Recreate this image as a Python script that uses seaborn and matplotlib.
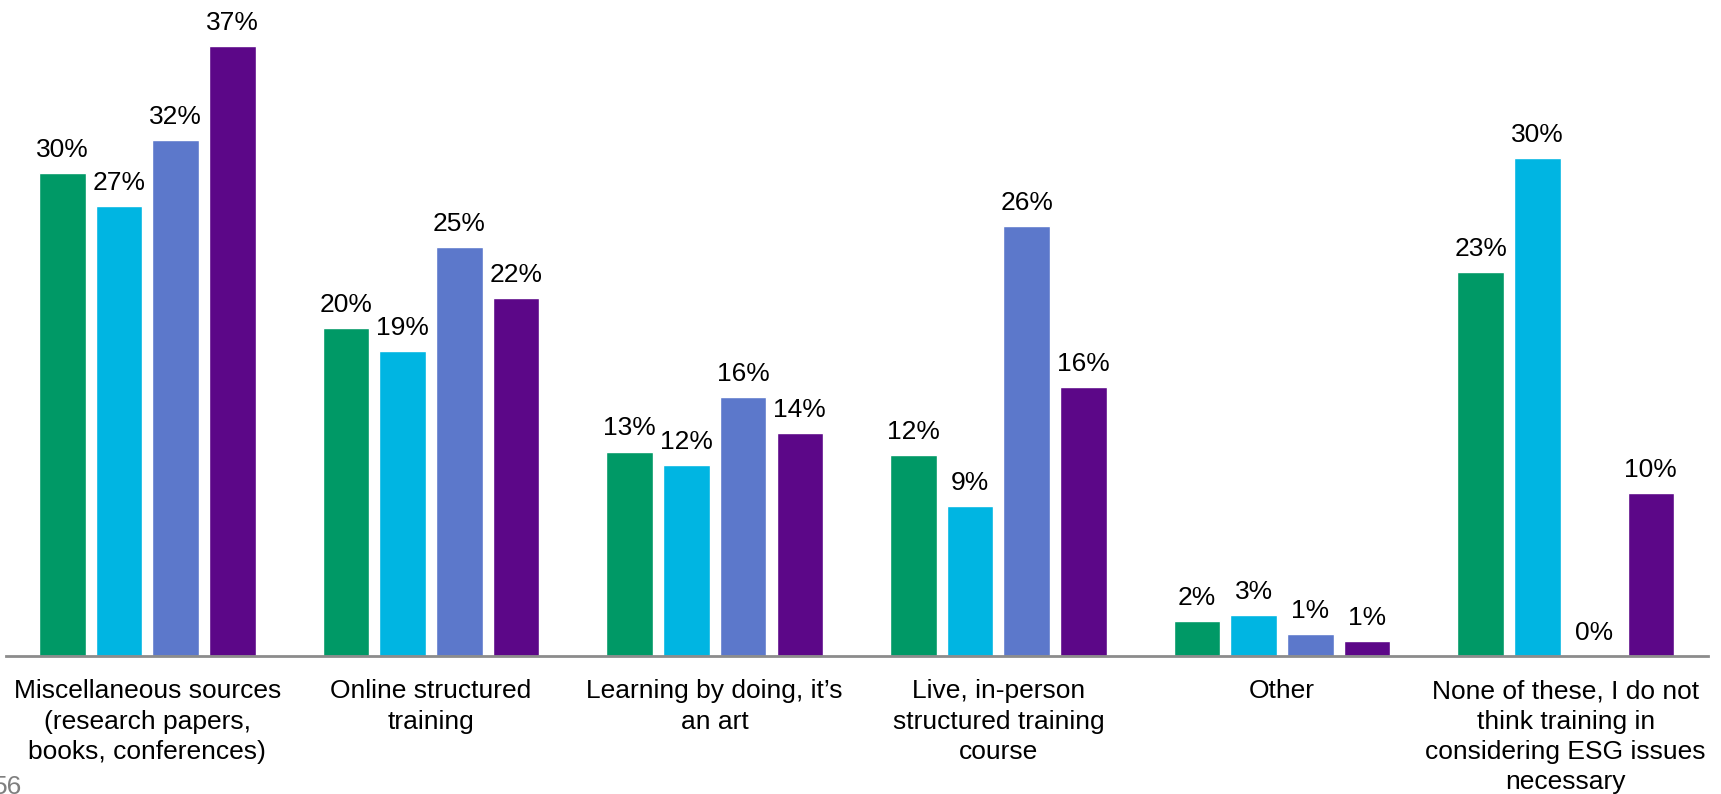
import matplotlib
matplotlib.use("Agg")
import matplotlib.pyplot as plt
import seaborn as sns
import pandas as pd

categories = [
    "Miscellaneous sources\n(research papers,\nbooks, conferences)",
    "Online structured\ntraining",
    "Learning by doing, it\u2019s\nan art",
    "Live, in-person\nstructured training\ncourse",
    "Other",
    "None of these, I do not\nthink training in\nconsidering ESG issues\nnecessary",
]
series = ["S1", "S2", "S3", "S4"]
colors = ["#009966", "#00B5E2", "#5C78CB", "#5C0788"]

# bar heights, labels as printed
s1 = [29.3, 19.9, 12.4, 12.2, 2.1, 23.3]
s2 = [27.3, 18.5, 11.6, 9.1, 2.5, 30.2]
s3 = [31.3, 24.8, 15.7, 26.1, 1.3, 0.0]
s4 = [37.0, 21.7, 13.5, 16.3, 0.9, 9.9]
s1_labels = ["30%", "20%", "13%", "12%", "2%", "23%"]
s2_labels = ["27%", "19%", "12%", "9%", "3%", "30%"]
s3_labels = ["32%", "25%", "16%", "26%", "1%", "0%"]
s4_labels = ["37%", "22%", "14%", "16%", "1%", "10%"]

values = [s1, s2, s3, s4]
labels = [s1_labels, s2_labels, s3_labels, s4_labels]

df = pd.DataFrame({
    "category": categories * 4,
    "series": [s for s in series for _ in categories],
    "value": [v for vals in values for v in vals],
})

sns.set_theme(style="white")
plt.rcParams["font.family"] = ["Liberation Sans", "DejaVu Sans"]

fig = plt.figure(figsize=(17.21, 7.94), dpi=100)
ax = fig.add_axes([0.0032, 0.174, 0.989, 0.826])

sns.barplot(data=df, x="category", y="value", hue="series", order=categories,
            hue_order=series, palette=colors, width=0.8, gap=0.18,
            saturation=1, legend=False, ax=ax)

for cont, lab in zip(ax.containers, labels):
    ax.bar_label(cont, labels=lab, padding=8, fontsize=19, color="black")

ax.set_xlim(-0.5, 5.5)
ax.set_ylim(0, 39.8)
ax.set_xlabel("")
ax.set_ylabel("")
ax.set_yticks([])
ax.tick_params(axis="x", length=0, pad=17, labelsize=19, labelcolor="black")
for lab in ax.get_xticklabels():
    lab.set_linespacing(1.32)
for side in ["top", "right", "left"]:
    ax.spines[side].set_visible(False)
ax.spines["bottom"].set_color("#8c8c8c")
ax.spines["bottom"].set_linewidth(2)

# page number, cut by the bottom edge as in the source slide
fig.text(-0.004, 0.024, "56", fontsize=19, color="#7f7f7f", va="top", ha="left")

fig.savefig("out.png", dpi=100)
